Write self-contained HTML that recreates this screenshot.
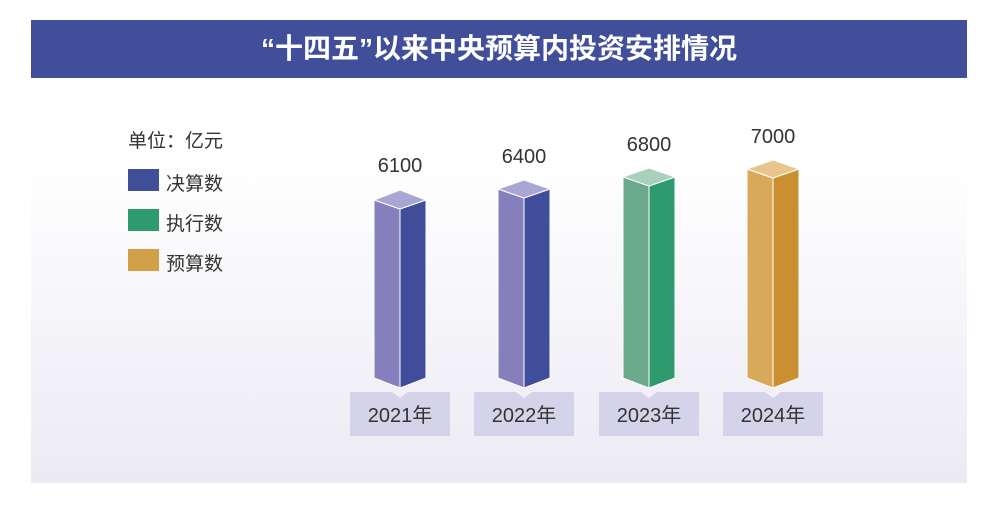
<!DOCTYPE html>
<html><head><meta charset="utf-8"><style>
body{margin:0;width:997px;height:510px;background:#fff;overflow:hidden;font-family:"Liberation Sans","Noto Sans CJK SC",sans-serif;}
.panel{position:absolute;left:31px;top:20px;width:936px;height:463px;background:linear-gradient(#fff 0%,#fff 30%,#eceaf3 100%);}
.hdr{position:absolute;left:31px;top:20px;width:936px;height:58px;background:#414e9a;color:#fff;font-size:28px;font-weight:bold;text-align:center;line-height:58px;}
.t{position:absolute;font-size:19px;color:#333;}
.sq{position:absolute;left:128px;width:31px;height:22px;}
</style></head><body>
<div class="panel"></div>
<div class="hdr">“十四五”以来中央预算内投资安排情况</div>
<div class="t" style="left:128px;top:126px;">单位：亿元</div>
<div class="sq" style="top:169px;background:#414e9a"></div><div class="t" style="left:166px;top:169px;">决算数</div>
<div class="sq" style="top:209px;background:#2e9a6e"></div><div class="t" style="left:166px;top:209px;">执行数</div>
<div class="sq" style="top:249px;background:#d3a04a"></div><div class="t" style="left:166px;top:249px;">预算数</div>
<svg width="997" height="510" style="position:absolute;left:0;top:0" font-family="Liberation Sans, Noto Sans CJK SC, sans-serif">
<g stroke="#fff" stroke-width="1">
<polygon points="374,200 400,209 400,388 374,378" fill="#8580bc"/>
<polygon points="400,209 426,200 426,378 400,388" fill="#3f4d9a"/>
<polygon points="374,200 400,190 426,200 400,209" fill="#aaa6d4"/>
<polygon points="498,189 524,198 524,388 498,378" fill="#8580bc"/>
<polygon points="524,198 550,189 550,378 524,388" fill="#3f4d9a"/>
<polygon points="498,189 524,180 550,189 524,198" fill="#aaa6d4"/>
<polygon points="623,177 649,186 649,388 623,378" fill="#6aaa8a"/>
<polygon points="649,186 675,177 675,378 649,388" fill="#2e9a6e"/>
<polygon points="623,177 649,168 675,177 649,186" fill="#a8d0bc"/>
<polygon points="747,169 773,178 773,388 747,378" fill="#d8a95a"/>
<polygon points="773,178 799,169 799,378 773,388" fill="#c98f30"/>
<polygon points="747,169 773,160 799,169 773,178" fill="#e8c58a"/>
</g>
<g fill="#d5d3e9">
<polygon points="350,392 392,392 400,398 408,392 450,392 450,436 350,436"/>
<polygon points="474,392 516,392 524,398 532,392 574,392 574,436 474,436"/>
<polygon points="599,392 641,392 649,398 657,392 699,392 699,436 599,436"/>
<polygon points="723,392 765,392 773,398 781,392 823,392 823,436 723,436"/>
</g>
<g font-size="20" fill="#333" text-anchor="middle">
<text x="400" y="172">6100</text>
<text x="524" y="163">6400</text>
<text x="649" y="151">6800</text>
<text x="773" y="143">7000</text>
<text x="400" y="422">2021年</text>
<text x="524" y="422">2022年</text>
<text x="649" y="422">2023年</text>
<text x="773" y="422">2024年</text>
</g>
</svg>
</body></html>
